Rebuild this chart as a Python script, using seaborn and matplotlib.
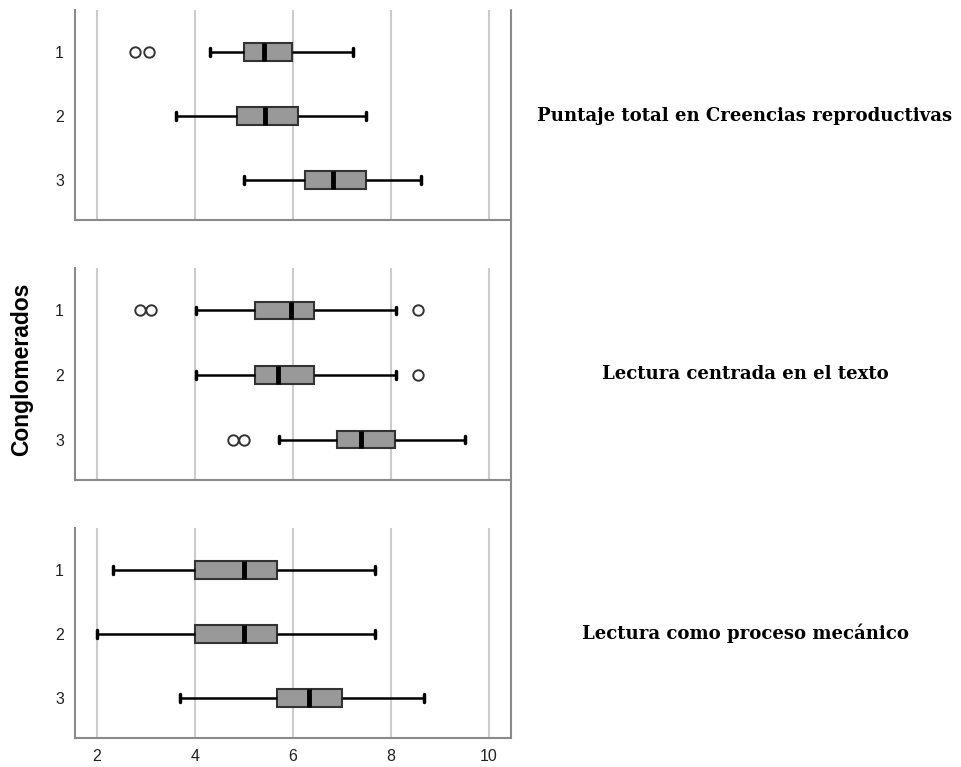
import numpy as np
import pandas as pd
import matplotlib
matplotlib.use("Agg")
import matplotlib.pyplot as plt
from matplotlib.lines import Line2D
import seaborn as sns

# Scales (one panel each) and clusters (rows within a panel)
scales = [
    "Puntaje total en Creencias reproductivas",
    "Lectura centrada en el texto",
    "Lectura como proceso mecánico",
]
clusters = ["1", "2", "3"]

# Box-plot summaries per scale; inner lists follow clusters 1, 2, 3
whisker_low = [[4.30, 3.61, 4.99], [4.03, 4.03, 5.71], [2.33, 2.00, 3.70]]
quart_1 = [[4.99, 4.86, 6.24], [5.23, 5.23, 6.90], [4.00, 4.00, 5.67]]
medians = [[5.41, 5.42, 6.81], [5.95, 5.70, 7.38], [5.00, 5.00, 6.33]]
quart_3 = [[5.98, 6.11, 7.50], [6.43, 6.43, 8.09], [5.67, 5.67, 7.00]]
whisker_high = [[7.22, 7.50, 8.61], [8.10, 8.10, 9.52], [7.67, 7.67, 8.67]]
outliers = [
    [[2.78, 3.07], [], []],
    [[2.88, 3.10, 8.56], [8.56], [4.77, 5.00]],
    [[], [], []],
]
x_ticks = [2, 4, 6, 8, 10]


def summary_sample(lo, q1, med, q3, hi, extra):
    """Observations whose quartiles and whisker ends equal the given summary."""
    return list(extra) + [lo] + [q1] * 20 + [med] * 5 + [q3] * 20 + [hi]


records = []
for s, scale in enumerate(scales):
    for c, cl in enumerate(clusters):
        vals = summary_sample(whisker_low[s][c], quart_1[s][c], medians[s][c],
                              quart_3[s][c], whisker_high[s][c], outliers[s][c])
        records += [{"scale": scale, "cluster": cl, "value": v} for v in vals]
df = pd.DataFrame(records)

sns.set_theme(style="white")
plt.rcParams["font.family"] = ["Liberation Sans", "DejaVu Sans"]

W, H = 961, 767
fig = plt.figure(figsize=(W / 100, H / 100), dpi=100)

# panel extents in pixels (top, bottom)
panels_px = [(10, 220), (268, 480), (528, 738)]
left_px, right_px = 75, 511
row_centres = [116, 374, 633]

spine_col = "#8a8a8a"
for s, scale in enumerate(scales):
    top, bot = panels_px[s]
    ax = fig.add_axes([left_px / W, 1 - bot / H, (right_px - left_px) / W, (bot - top) / H])
    sub = df[df["scale"] == scale]
    sns.boxplot(
        data=sub, x="value", y="cluster", order=clusters, orient="h", ax=ax,
        width=0.27, color="#999999", saturation=1, linecolor="#333333",
        linewidth=1.5, whis=1.5, capwidths=0.11,
        medianprops=dict(color="black", linewidth=3.5),
        whiskerprops=dict(color="black", linewidth=1.8),
        capprops=dict(color="black", linewidth=2.5),
        flierprops=dict(marker="o", markersize=7.5, markerfacecolor="white",
                        markeredgecolor="#333333", markeredgewidth=1.4),
    )
    ax.set_xlim(1.55, 10.45)
    ax.set_ylim(2.625, -0.656)
    ax.set_xticks(x_ticks)
    ax.grid(axis="x", color="#cccccc", linewidth=1.5)
    ax.grid(axis="y", visible=False)
    ax.set_axisbelow(True)
    ax.set_xlabel("")
    ax.set_ylabel("")
    for side in ("top", "right"):
        ax.spines[side].set_visible(False)
    for side in ("left", "bottom"):
        ax.spines[side].set_color(spine_col)
        ax.spines[side].set_linewidth(1.5)
    ax.tick_params(axis="y", length=0, pad=8, labelsize=11.5, labelcolor="#222222")
    ax.tick_params(axis="x", length=0, pad=8, labelsize=11.5, labelcolor="#222222")
    if s < 2:
        ax.tick_params(axis="x", labelbottom=False)

    fig.text(745 / W, 1 - row_centres[s] / H, scale, ha="center", va="center",
             family="DejaVu Serif", weight="bold", fontsize=13.1, color="black")

# frame line separating plots from the scale names
fig.add_artist(Line2D([right_px / W, right_px / W], [1 - 10 / H, 1 - 738 / H],
                      color=spine_col, linewidth=1.5, transform=fig.transFigure))

fig.text(22 / W, 1 - 369 / H, "Conglomerados", rotation=90, ha="center", va="center",
         fontsize=16.5, weight="bold", color="black")

fig.savefig("out.png", dpi=100)
